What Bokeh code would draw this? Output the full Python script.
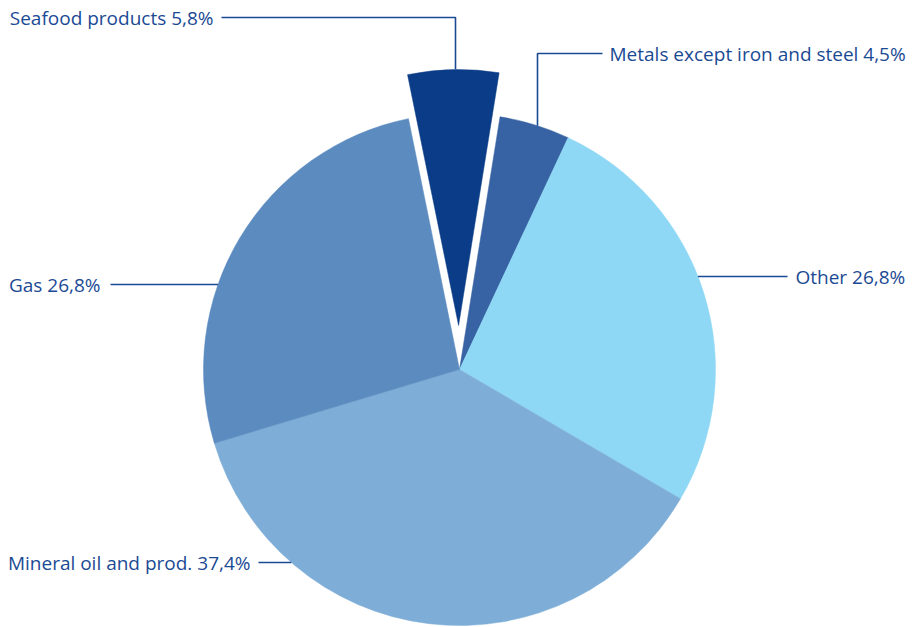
import math
from bokeh.plotting import figure
from bokeh.models import Range1d
from bokeh.core.properties import value
from bokeh.embed import file_html
from bokeh.resources import INLINE

# ---- data ----
categories = ["Seafood products", "Metals except iron and steel", "Other",
              "Mineral oil and prod.", "Gas"]
shares = [5.8, 4.5, 26.8, 37.4, 26.8]
share_labels = ["5,8%", "4,5%", "26,8%", "37,4%", "26,8%"]
colors = ["#0a3c87", "#3762a3", "#8ed8f5", "#7eaed7", "#5b8bbf"]

W, H = 919, 627
TXT = "#1b4a94"
FONT = "Open Sans"
FS = "19px"

def px(x):
    return x

def py(y):
    return H - y

cx, cy, R = px(459), py(369), 256
start_theta = -11.5  # degrees clockwise from top
explode = 44

p = figure(width=W, height=H, output_backend="svg", toolbar_location=None,
           x_range=Range1d(0, W), y_range=Range1d(0, H), min_border=0)
p.axis.visible = False
p.grid.visible = False
p.outline_line_color = None
p.background_fill_color = "white"
p.border_fill_color = "white"

total = sum(shares)
theta = start_theta
centers = []
for name, v, c in zip(categories, shares, colors):
    span = v / total * 360.0
    t0, t1 = theta, theta + span
    mid = math.radians((t0 + t1) / 2)
    ox, oy = (explode * math.sin(mid), explode * math.cos(mid)) if name == "Seafood products" else (0, 0)
    centers.append((cx + ox, cy + oy))
    p.wedge(x=cx + ox, y=cy + oy, radius=R,
            start_angle=math.radians(90 - t0), end_angle=math.radians(90 - t1),
            direction="clock", fill_color=c, line_color=c, line_width=0.5)
    theta = t1

def circ_x(y, c, side):
    return c[0] + side * math.sqrt(R * R - (y - c[1]) ** 2)

def circ_y(x, c):
    return c[1] + math.sqrt(R * R - (x - c[0]) ** 2)

lw = 1.6
def label(x, y, s, align):
    p.text(x=[x], y=[y], text=[s], text_align=align, text_baseline="middle",
           text_font=value(FONT), text_font_size=FS, text_color=TXT)

# Seafood: horizontal then down to exploded arc
sx, sy = px(455), py(17)
p.line([px(221), sx, sx], [sy, sy, circ_y(sx, centers[0])], line_color=TXT, line_width=lw)
label(px(213), sy, f"{categories[0]} {share_labels[0]}", "right")
# Metals
mx, my = px(537), py(53)
p.line([mx, mx, px(602)], [circ_y(mx, centers[1]), my, my], line_color=TXT, line_width=lw)
label(px(609), my, f"{categories[1]} {share_labels[1]}", "left")
# Other
oy_ = py(276)
p.line([circ_x(oy_, centers[2], 1), px(787)], [oy_, oy_], line_color=TXT, line_width=lw)
label(px(795), oy_, f"{categories[2]} {share_labels[2]}", "left")
# Mineral oil
my2 = py(562)
p.line([px(258), circ_x(my2, centers[3], -1)], [my2, my2], line_color=TXT, line_width=lw)
label(px(250), my2, f"{categories[3]} {share_labels[3]}", "right")
# Gas
gy = py(284)
p.line([px(110), circ_x(gy, centers[4], -1)], [gy, gy], line_color=TXT, line_width=lw)
label(px(100), gy, f"{categories[4]} {share_labels[4]}", "right")

open("out.html", "w").write(file_html(p, INLINE))
